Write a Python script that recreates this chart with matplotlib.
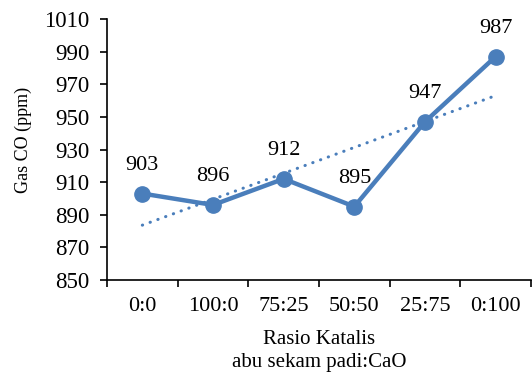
import matplotlib
matplotlib.use("Agg")
import matplotlib.pyplot as plt
import numpy as np

categories = ["0:0", "100:0", "75:25", "50:50", "25:75", "0:100"]
values = [903, 896, 912, 895, 947, 987]
yticks = [850, 870, 890, 910, 930, 950, 970, 990, 1010]

plt.rcParams['font.family'] = ['Liberation Serif', 'DejaVu Serif']

fig = plt.figure(figsize=(5.32, 3.74), dpi=100)
ax = fig.add_axes([107/532, 1-280/374, 424/532, (280-19)/374])

x = np.arange(len(categories))
color = '#4A7EBB'
ax.plot(x, values, color=color, lw=3.2, marker='o', ms=11, solid_joinstyle='round', zorder=3)

# linear trendline
m, b = np.polyfit(x, values, 1)
ax.plot(x, m*x + b, color=color, lw=2.2, linestyle=(0, (0.1, 2.6)), dash_capstyle='round', zorder=2)

for xi, v in zip(x, values):
    ax.annotate(str(v), (xi, v), xytext=(0, 17), textcoords='offset points',
                ha='center', va='baseline', fontsize=16)

ax.set_xlim(-0.5, len(categories)-0.5)
ax.set_ylim(850, 1010)
ax.set_yticks(yticks)
ax.set_xticks(x)
ax.set_xticklabels(categories, fontsize=16)
ax.set_xticks(np.arange(-0.5, len(categories)+0.5, 1), minor=True)
ax.tick_params(axis='x', which='major', length=0, pad=12)
ax.tick_params(axis='x', which='minor', length=5, width=1.2, direction='out')
ax.tick_params(axis='y', labelsize=16.5, length=5, width=1.2, direction='out', pad=7.5)
for s in ['top', 'right']:
    ax.spines[s].set_visible(False)
for s in ['left', 'bottom']:
    ax.spines[s].set_linewidth(1.2)

ax.set_ylabel('Gas CO (ppm)', fontsize=13)
ax.yaxis.set_label_coords(-0.177, 0.538)
ax.set_xlabel('Rasio Katalis\nabu sekam padi:CaO', fontsize=15, linespacing=1.3)
ax.xaxis.set_label_coords(0.5, -0.19)

fig.savefig('out.png', dpi=100)
